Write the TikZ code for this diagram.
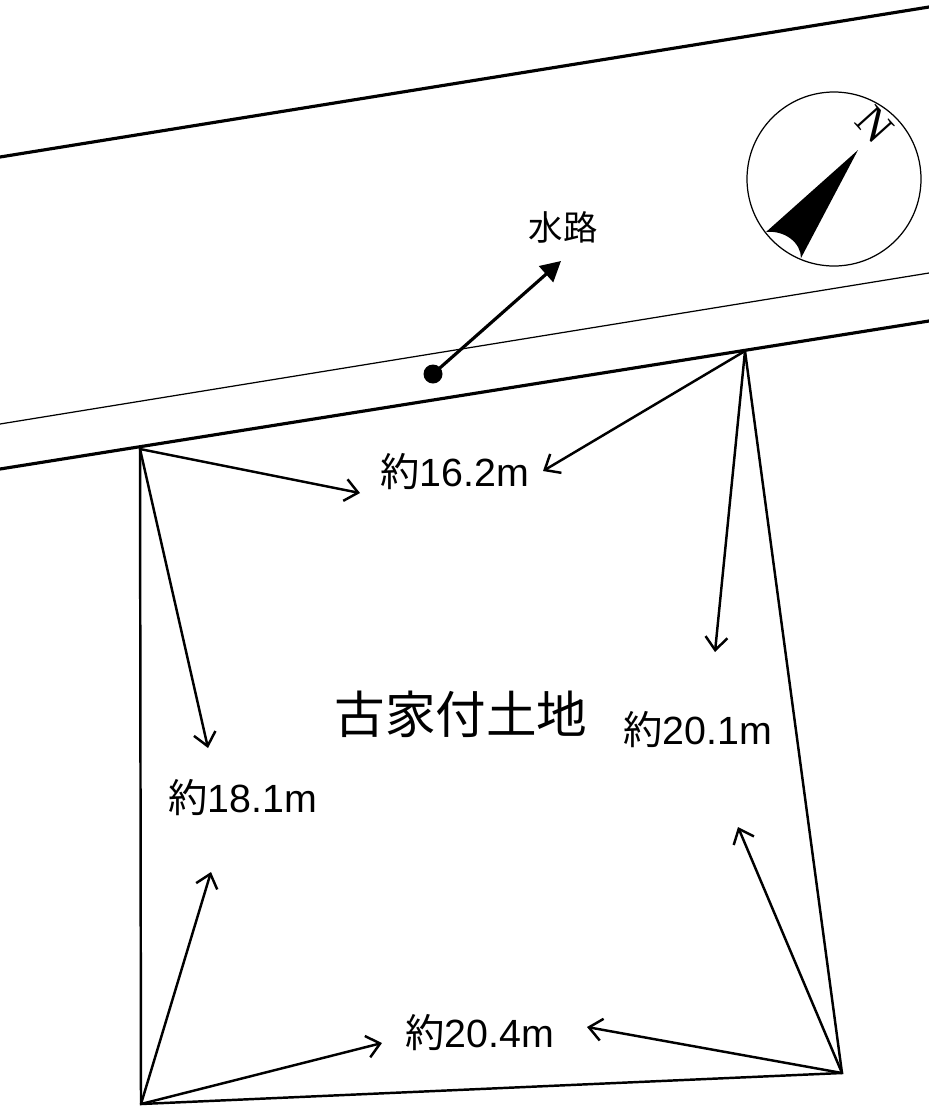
\documentclass[tikz,border=0pt]{standalone}
\usepackage{fontspec}
\setmainfont{Liberation Sans}
\newfontfamily\cjk{Noto Sans CJK JP}
\usetikzlibrary{arrows.meta}
\tikzset{
    lenlabel/.style={font=\fontsize{11.2}{12}\selectfont, inner sep=0pt},
    lenarrow/.style={line width=0.7pt, -{Straight Barb[length=1.3mm,width=2.2mm,line width=0.7pt]}},
    boundary/.style={line width=0.7pt}
}
\begin{document}
\begin{tikzpicture}[x=0.1mm,y=-0.1mm,line cap=round]
    \useasboundingbox (0,0) rectangle (929,1110);
    % corners of the lot
    \coordinate (nw) at (140,449);
    \coordinate (ne) at (745,351);
    \coordinate (se) at (842,1073);
    \coordinate (sw) at (141,1104);
    % waterway
    \coordinate (topl) at (0,157);
    \coordinate (topr) at (929,7);
    \coordinate (midl) at (0,424);
    \coordinate (midr) at (929,273);
    \coordinate (lowl) at (0,469);
    \coordinate (lowr) at (929,321);
    \draw[line width=0.9pt] (topl) -- (topr);
    \draw[line width=0.35pt] (midl) -- (midr);
    \draw[line width=0.9pt] (lowl) -- (lowr);
    \draw[boundary] (nw) -- (sw) -- (se) -- (ne);
    % labels
    \node[lenlabel] (top) at (455,472) {{\cjk 約}16.2m};
    \node[lenlabel] (left) at (243,798) {{\cjk 約}18.1m};
    \node[lenlabel] (right) at (698,730) {{\cjk 約}20.1m};
    \node[lenlabel] (bottom) at (480,1033) {{\cjk 約}20.4m};
    \node[font=\cjk\fontsize{14.4}{15}\selectfont, inner sep=0pt] (name) at (461,714) {古家付土地};
    \node[font=\cjk\fontsize{9.8}{10}\selectfont, inner sep=0pt] (water) at (563,227) {水路};
    % free ends of the arrows
    \coordinate (topa) at (360,493);
    \coordinate (topb) at (543,471);
    \coordinate (lefta) at (208,748);
    \coordinate (leftb) at (211,872);
    \coordinate (righta) at (715,652);
    \coordinate (rightb) at (738,827);
    \coordinate (bota) at (382,1043);
    \coordinate (botb) at (587,1027);
    \draw[lenarrow] (nw) -- (topa);
    \draw[lenarrow] (ne) -- (topb);
    \draw[lenarrow] (nw) -- (lefta);
    \draw[lenarrow] (sw) -- (leftb);
    \draw[lenarrow] (ne) -- (righta);
    \draw[lenarrow] (se) -- (rightb);
    \draw[lenarrow] (sw) -- (bota);
    \draw[lenarrow] (se) -- (botb);
    % pointer to the waterway
    \coordinate (wtip) at (561,261);
    \node[circle, fill=black, minimum size=1.9mm, inner sep=0pt] (wdot) at (433,374) {};
    \draw[line width=0.9pt, -{Triangle[length=2mm,width=2.1mm]}] (wdot.center) -- (wtip);
    % north mark
    \node[circle, draw, line width=0.35pt, minimum size=17.4mm, inner sep=0pt] (comp) at (834,179) {};
    \coordinate (ntip) at (858,150);
    \coordinate (nl) at (766,232);
    \coordinate (nr) at (801,258);
    \fill (ntip) -- (nl) .. controls (785,230) and (801,243) .. (nr) -- cycle;
    \node[font=\fontsize{12.5}{13}\selectfont, rotate=-48, inner sep=0pt] (north) at (875,125) {\fontspec{Liberation Serif}N};
\end{tikzpicture}
\end{document}
